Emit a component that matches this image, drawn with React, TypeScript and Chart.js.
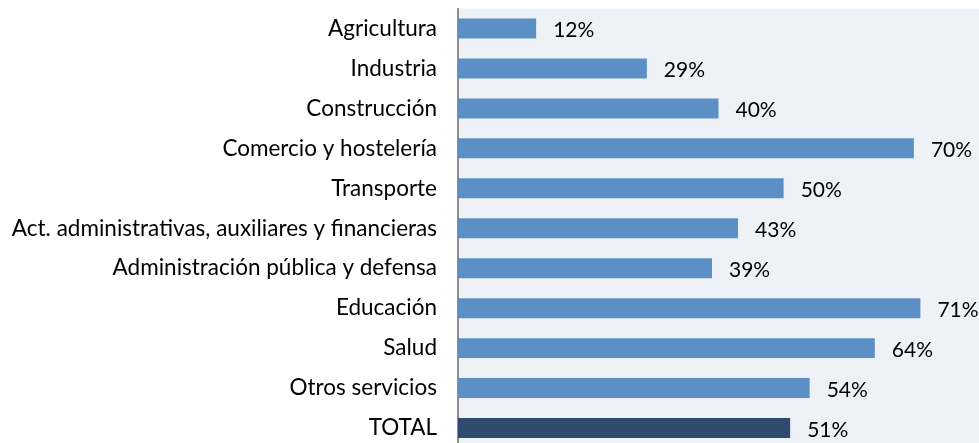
import React, { useEffect, useRef } from "react";
import { Chart, registerables } from "chart.js";

Chart.register(...registerables);

const categories = [
  "Agricultura",
  "Industria",
  "Construcción",
  "Comercio y hostelería",
  "Transporte",
  "Act. administrativas, auxiliares y financieras",
  "Administración pública y defensa",
  "Educación",
  "Salud",
  "Otros servicios",
  "TOTAL",
];
const values = [12, 29, 40, 70, 50, 43, 39, 71, 64, 54, 51];
const barColors = [
  "#5b8fc6", "#5b8fc6", "#5b8fc6", "#5b8fc6", "#5b8fc6", "#5b8fc6",
  "#5b8fc6", "#5b8fc6", "#5b8fc6", "#5b8fc6", "#2f4c6f",
];

const FONT = "Lato, 'Open Sans', sans-serif";

export default function App() {
  const ref = useRef<HTMLCanvasElement | null>(null);
  useEffect(() => {
    document.body.style.margin = "0";
    document.body.style.overflow = "hidden";
    const bgPlugin = {
      id: "bg",
      beforeDraw(chart: any) {
        const { ctx, chartArea } = chart;
        ctx.save();
        ctx.fillStyle = "#eef2f6";
        ctx.fillRect(chartArea.left, chartArea.top, chart.width - chartArea.left, chartArea.bottom - chartArea.top);
        ctx.restore();
      },
    };
    const labelPlugin = {
      id: "labels",
      afterDatasetsDraw(chart: any) {
        const { ctx } = chart;
        const meta = chart.getDatasetMeta(0);
        ctx.save();
        ctx.font = `21px ${FONT}`;
        ctx.fillStyle = "#000";
        ctx.textAlign = "left";
        ctx.textBaseline = "middle";
        meta.data.forEach((bar: any, i: number) => {
          ctx.fillText(values[i] + "%", bar.x + 17, bar.y + 2);
        });
        ctx.restore();
      },
    };
    const chart = new Chart(ref.current!, {
      type: "bar",
      data: {
        labels: categories,
        datasets: [
          {
            data: values,
            backgroundColor: barColors,
            borderWidth: 0,
            categoryPercentage: 1,
            barPercentage: 0.5,
          },
        ],
      },
      options: {
        indexAxis: "y",
        animation: false,
        responsive: false,
        maintainAspectRatio: false,
        layout: { padding: { top: 8.5, bottom: 0, left: 0, right: 0 } },
        plugins: { legend: { display: false }, tooltip: { enabled: false } },
        scales: {
          x: {
            min: 0,
            max: 80,
            display: false,
            grid: { display: false },
          },
          y: {
            grid: { display: false, drawTicks: false },
            border: { display: true, color: "#8c8c8c", width: 2 },
            ticks: {
              color: "#000",
              padding: 21,
              font: { family: FONT, size: 22.5 },
            },
            afterFit(scale: any) {
              scale.paddingTop = 0;
              scale.paddingBottom = 0;
              scale.width = 458;
            },
          },
        },
      },
      plugins: [bgPlugin, labelPlugin],
    });
    return () => chart.destroy();
  }, []);
  return (
    <div style={{ position: "fixed", left: 0, top: 0, width: 979, height: 448 }}>
      <canvas ref={ref} width={979} height={448} style={{ display: "block" }} />
    </div>
  );
}
